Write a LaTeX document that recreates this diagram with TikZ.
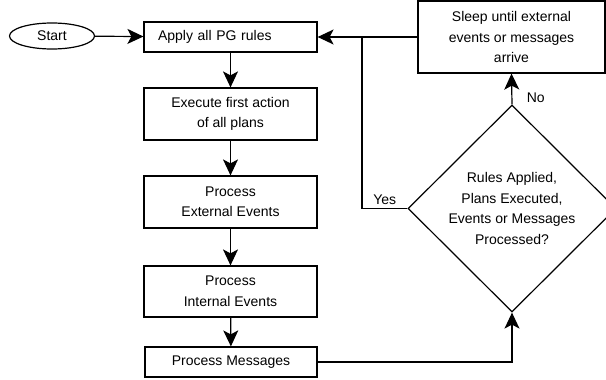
\documentclass[tikz,border=0pt]{standalone}
\usepackage{fontspec}
\setmainfont{Liberation Sans}
\usetikzlibrary{shapes.geometric,arrows.meta}
\tikzset{>={Stealth[length=16pt,width=15pt,inset=4pt]}}
\tikzset{
  stepbox/.style={draw=black, minimum width=173pt, align=center, inner sep=2pt},
  startnode/.style={draw=black, ellipse, minimum width=85pt, minimum height=26pt, inner sep=0pt},
  decision/.style={draw=black, diamond, minimum width=208pt, minimum height=207pt, inner sep=0pt, align=center}
}

\begin{document}
\begin{tikzpicture}[x=1pt, y=-1pt, line width=1.2pt, font=\fontsize{14}{20.5}\selectfont]
  \useasboundingbox (0,0) rectangle (606,380);

  % Start and the column of steps
  \node[startnode] (start) at (52,36) {Start\hspace{12pt}};
  \node[stepbox, text width=145pt, inner xsep=14pt, align=left, minimum height=30pt] (apply) at (230.5,37) {Apply all PG rules};
  \node[stepbox, minimum height=52pt] (exec) at (230.5,114) {Execute first action\\of all plans};
  \node[stepbox, minimum height=52pt] (ext) at (230.5,202) {Process\\External Events};
  \node[stepbox, minimum height=51pt] (int) at (230.5,291.5) {Process\\Internal Events};
  \node[stepbox, minimum width=172pt, minimum height=30pt] (msg) at (231,362) {Process Messages};

  % Decision and sleep
  \node[decision] (check) at (512,208.5) {Rules Applied,\\Plans Executed,\\Events or Messages\\Processed?};
  \node[stepbox, minimum width=187pt, minimum height=72pt] (sleep) at (511.5,37) {Sleep until external\\events or messages\\arrive};
  \coordinate (merge) at (362,37); % where the Yes line meets the sleep line

  % Arrows down the column
  \draw[->] (start) -- (apply);
  \draw[->] (apply) -- (exec);
  \draw[->] (exec) -- (ext);
  \draw[->] (ext) -- (int);
  \draw[->] (int) -- (msg);

  % Loop back
  \draw[->] (msg.east) -| (check.south);
  \draw[->] (check.north) -- (sleep.south) node[pos=0.2, right=11pt] {No};
  \draw (check.west) -- node[above] {Yes} (check.west -| merge) -- (merge);
  \draw[->] (sleep.west) -- (apply.east);

\end{tikzpicture}
\end{document}
